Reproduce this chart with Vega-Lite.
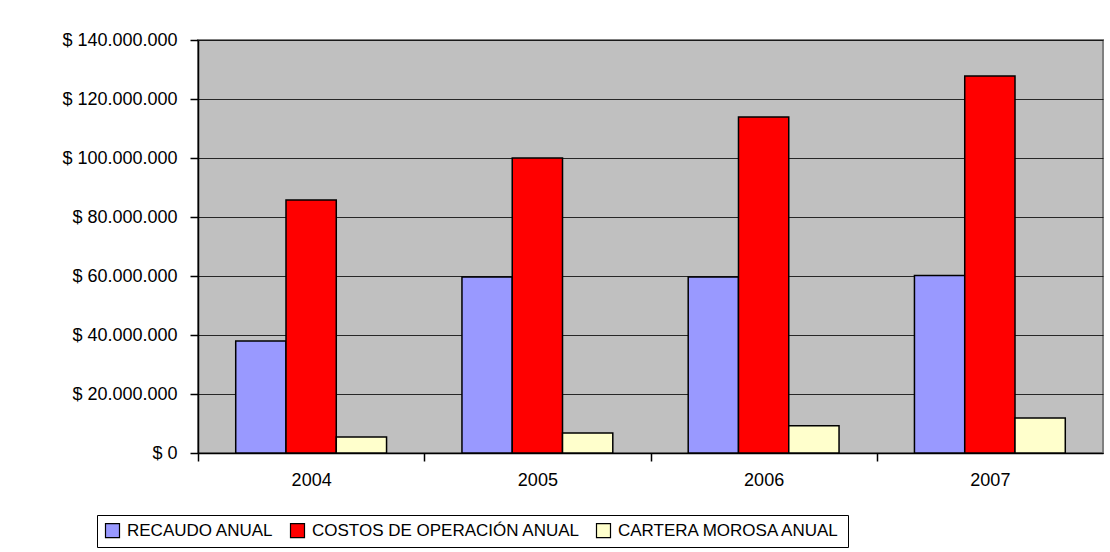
{
  "$schema": "https://vega.github.io/schema/vega-lite/v6.json",
  "autosize": "none",
  "width": 905,
  "height": 413,
  "padding": {"left": 198, "top": 40, "right": 7, "bottom": 99},
  "background": "white",
  "config": {
    "locale": {"number": {"decimal": ",", "thousands": ".", "grouping": [3], "currency": ["$ ", ""]}},
    "font": "Liberation Sans",
    "view": {"fill": "#C0C0C0", "stroke": "#808080", "strokeWidth": 2},
    "axis": {"labelFont": "Liberation Sans", "labelColor": "#000000", "labelFontSize": 18, "domainColor": "#000000", "tickColor": "#000000", "domainWidth": 1.5, "tickWidth": 1.5}
  },
  "data": {
    "values": [
      {"anio": "2004", "serie": "RECAUDO ANUAL", "valor": 38000000},
      {"anio": "2004", "serie": "COSTOS DE OPERACIÓN ANUAL", "valor": 85800000},
      {"anio": "2004", "serie": "CARTERA MOROSA ANUAL", "valor": 5400000},
      {"anio": "2005", "serie": "RECAUDO ANUAL", "valor": 59700000},
      {"anio": "2005", "serie": "COSTOS DE OPERACIÓN ANUAL", "valor": 100000000},
      {"anio": "2005", "serie": "CARTERA MOROSA ANUAL", "valor": 6800000},
      {"anio": "2006", "serie": "RECAUDO ANUAL", "valor": 59700000},
      {"anio": "2006", "serie": "COSTOS DE OPERACIÓN ANUAL", "valor": 113900000},
      {"anio": "2006", "serie": "CARTERA MOROSA ANUAL", "valor": 9200000},
      {"anio": "2007", "serie": "RECAUDO ANUAL", "valor": 60200000},
      {"anio": "2007", "serie": "COSTOS DE OPERACIÓN ANUAL", "valor": 127800000},
      {"anio": "2007", "serie": "CARTERA MOROSA ANUAL", "valor": 11900000}
    ]
  },
  "mark": {"type": "bar", "stroke": "#000000", "strokeWidth": 1.5},
  "encoding": {
    "x": {
      "field": "anio", "type": "nominal",
      "scale": {"paddingInner": 0.3333, "paddingOuter": 0.1667},
      "axis": {"title": null, "labelAngle": 0, "tickSize": 8, "tickOffset": -113, "labelOffset": 113, "labelPadding": 10, "grid": false}
    },
    "xOffset": {
      "field": "serie", "type": "nominal",
      "sort": ["RECAUDO ANUAL", "COSTOS DE OPERACIÓN ANUAL", "CARTERA MOROSA ANUAL"],
      "scale": {"paddingInner": 0, "paddingOuter": 0}
    },
    "y": {
      "field": "valor", "type": "quantitative",
      "scale": {"domain": [0, 140000000], "nice": false},
      "axis": {"title": null, "format": "$,.0f", "values": [0, 20000000, 40000000, 60000000, 80000000, 100000000, 120000000, 140000000], "tickSize": 8, "labelPadding": 13, "grid": true, "gridColor": "#000000", "gridWidth": 1, "gridOpacity": 0.8}
    },
    "color": {
      "field": "serie", "type": "nominal",
      "sort": ["RECAUDO ANUAL", "COSTOS DE OPERACIÓN ANUAL", "CARTERA MOROSA ANUAL"],
      "scale": {"domain": ["RECAUDO ANUAL", "COSTOS DE OPERACIÓN ANUAL", "CARTERA MOROSA ANUAL"], "range": ["#9999FF", "#FF0000", "#FFFFCC"]},
      "legend": {
        "title": null, "orient": "none", "direction": "horizontal", "columns": 3,
        "legendX": -101, "legendY": 475,
        "strokeColor": "#000000", "padding": 7, "fillColor": "white",
        "symbolType": "square", "symbolSize": 196, "symbolStrokeColor": "#000000", "symbolStrokeWidth": 1.2,
        "labelFont": "Liberation Sans", "labelFontSize": 17, "labelColor": "#000000", "labelLimit": 400,
        "columnPadding": 14, "labelOffset": 6
      }
    }
  }
}
